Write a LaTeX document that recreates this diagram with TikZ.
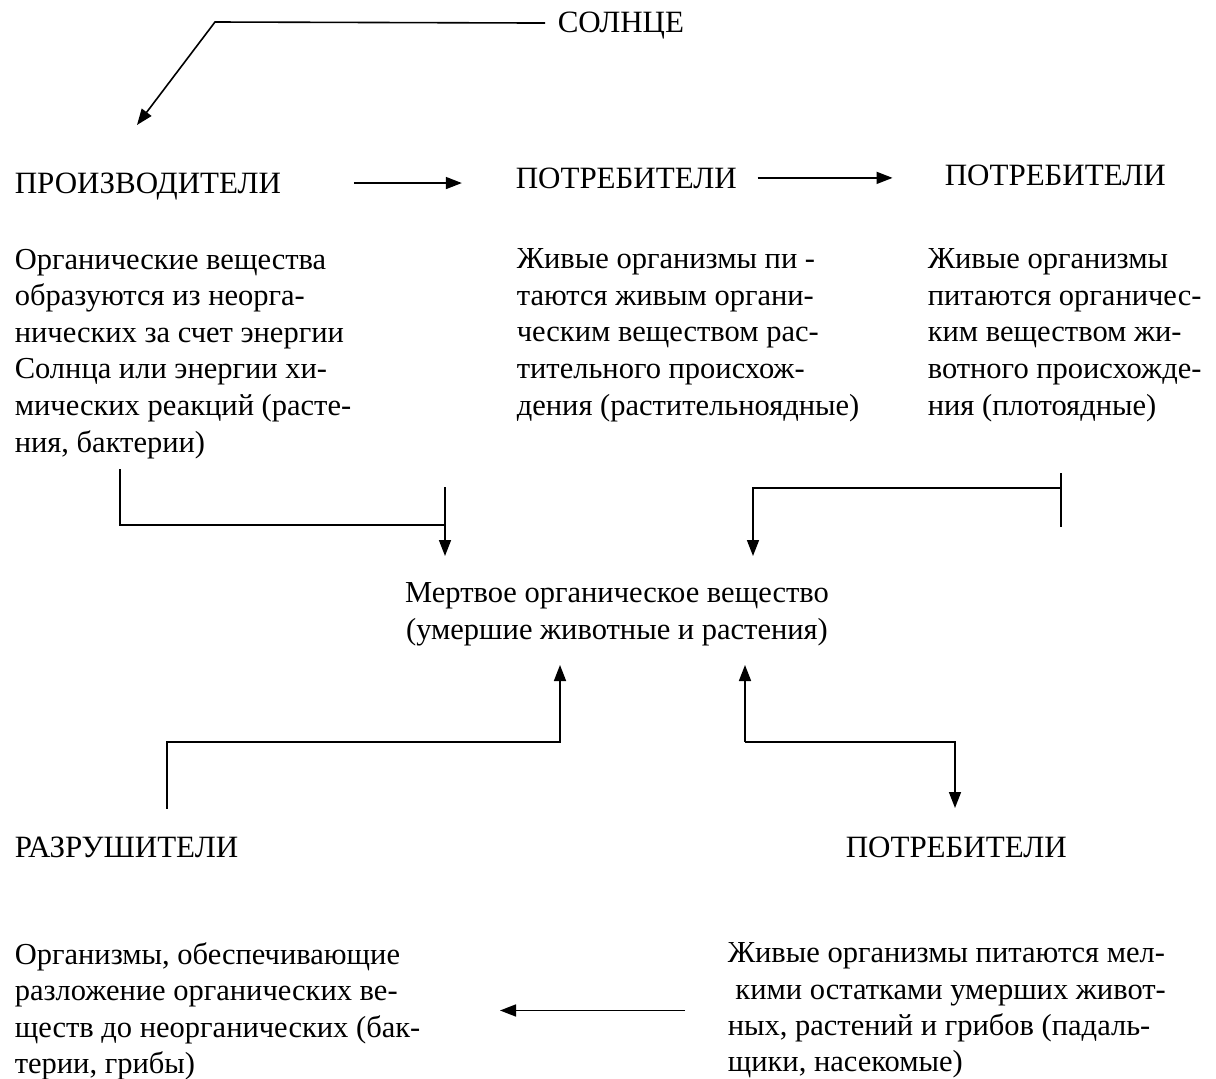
\documentclass[tikz,border=0pt]{standalone}
\usepackage{fontspec}
\setmainfont{Liberation Serif}
\usepackage{tikz}
\usetikzlibrary{arrows.meta}
\tikzset{
    head/.style={inner sep=0pt, anchor=base west, font=\fontsize{31}{36.5}\selectfont},
    body/.style={inner sep=0pt, anchor=north west, align=left, font=\fontsize{30.5}{36.6}\selectfont},
    arr/.style={-{Triangle[length=16pt, width=12pt]}}
}

\begin{document}
\begin{tikzpicture}[x=1pt, y=-1pt, line width=1.6pt]

    \useasboundingbox (0, 0) rectangle (1216, 1079);

    \node[head] (sun) at (557, 32) {СОЛНЦЕ};
    \node[head] (prod) at (14, 193) {ПРОИЗВОДИТЕЛИ};
    \node[head] (herb) at (515, 188) {ПОТРЕБИТЕЛИ};
    \node[head] (carn) at (944, 185) {ПОТРЕБИТЕЛИ};

    \node[body] (prodtxt) at (14, 248) {Органические вещества\\
        образуются из неорга-\\
        нических за счет энергии\\
        Солнца или энергии хи-\\
        мических реакций (расте-\\
        ния, бактерии)};
    \node[body] (herbtxt) at (516, 248) {Живые организмы пи -\\
        таются живым органи-\\
        ческим веществом рас-\\
        тительного происхож-\\
        дения (растительноядные)};
    \node[body] (carntxt) at (927, 248) {Живые организмы\\
        питаются органичес-\\
        ким веществом жи-\\
        вотного происхожде-\\
        ния (плотоядные)};

    \node[body, align=center, anchor=north] (dead) at (617, 582)
        {Мертвое органическое вещество\\(умершие животные и растения)};

    \node[head] (decomp) at (14, 857) {РАЗРУШИТЕЛИ};
    \node[head] (scav) at (845, 857) {ПОТРЕБИТЕЛИ};

    \node[body, font=\fontsize{30.5}{36.3}\selectfont] (decomptxt) at (14, 942) {Организмы, обеспечивающие\\
        разложение органических ве-\\
        ществ до неорганических (бак-\\
        терии, грибы)};
    \node[body, font=\fontsize{30.5}{36.3}\selectfont] (scavtxt) at (727, 942) {Живые организмы питаются мел-\\
        \ кими остатками умерших живот-\\
        ных, растений и грибов (падаль-\\
        щики, насекомые)};

    \coordinate (sunbend) at (215, 22);
    \coordinate (sunend) at (137, 125);
    \draw[arr] (sun.west) ++(-12, -2) -- (sunbend) -- (sunend);

    \draw[arr] (prod.east) ++(72, -3) -- ++(108, 0);
    \draw[arr] (herb.east) ++(20, 0) -- ++(135, 0);

    \coordinate (pbend) at (120, 525);
    \coordinate (ptop) at (445, 487);
    \coordinate (ptip) at (445, 556);
    \draw (prodtxt.south -| pbend) ++(0, 10) -- (pbend) -- (pbend -| ptop);
    \draw[arr] (ptop) -- (ptip);

    \coordinate (cbend) at (1061, 488);
    \coordinate (ctip) at (753, 556);
    \draw (cbend) ++(0, -15) -- ++(0, 54);
    \draw[arr] (cbend) -| (ctip);

    \coordinate (dbend) at (167, 742);
    \coordinate (dtip) at (560, 665);
    \draw[arr] (decomp.north -| dbend) ++(0, -27) -- (dbend) -| (dtip);

    \coordinate (sbend) at (745, 742);
    \coordinate (stip) at (955, 808);
    \draw[arr] (sbend) -- (sbend |- dtip);
    \draw[arr] (sbend) -| (stip);

    \draw[arr] (scavtxt.west) ++(-42, 0) -- ++(-185, 0);

\end{tikzpicture}
\end{document}
